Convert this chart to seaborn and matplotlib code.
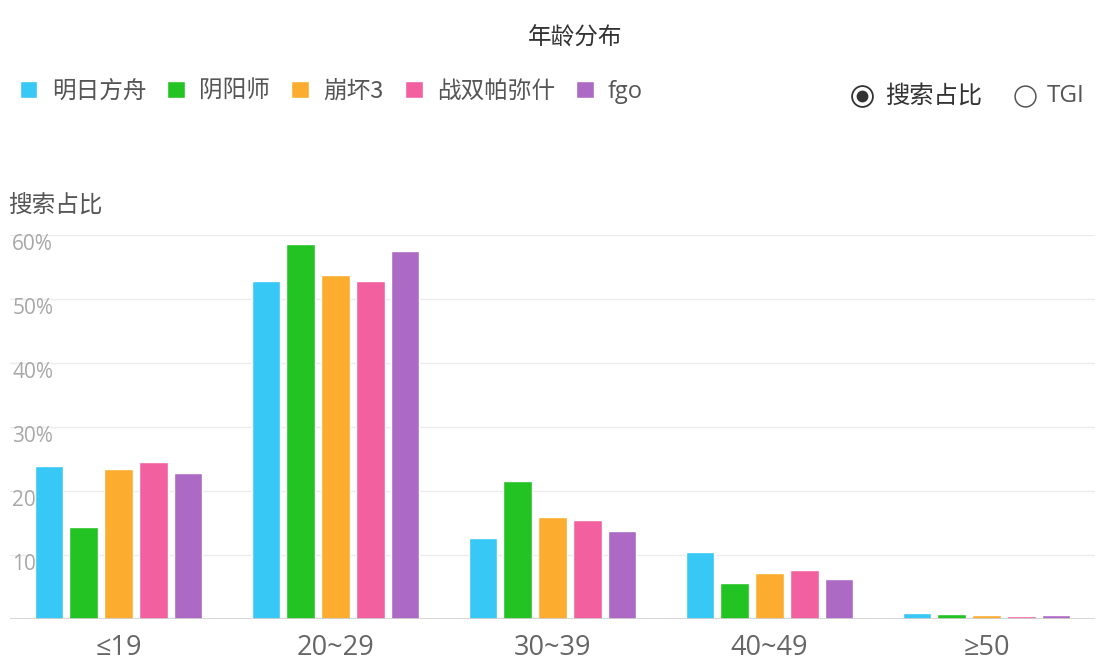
import pandas as pd
import seaborn as sns
import matplotlib.pyplot as plt
from matplotlib.lines import Line2D

ages = ['≤19', '20~29', '30~39', '40~49', '≥50']
games = ['明日方舟', '阴阳师', '崩坏3', '战双帕弥什', 'fgo']
colors = ['#38c8f5', '#22c322', '#fcac2e', '#f260a0', '#ac6ac4']

mingri = [23.9, 52.8, 12.7, 10.5, 0.9]
yinyang = [14.4, 58.6, 21.6, 5.6, 0.8]
benghuai = [23.4, 53.7, 15.9, 7.2, 0.6]
zhanshuang = [24.5, 52.8, 15.5, 7.7, 0.5]
fgo = [22.8, 57.5, 13.7, 6.2, 0.6]
yticks = [0, 10, 20, 30, 40, 50, 60]

rows = []
for game, vals in zip(games, [mingri, yinyang, benghuai, zhanshuang, fgo]):
    for age, v in zip(ages, vals):
        rows.append({'age': age, 'game': game, 'value': v})
df = pd.DataFrame(rows)

sns.set_style('white')
plt.rcParams['font.family'] = ['Noto Sans CJK SC', 'DejaVu Sans']
latin = ['Open Sans', 'DejaVu Sans']

fig = plt.figure(figsize=(11.14, 6.69), dpi=100)
W, H = 1114, 669
ax = fig.add_axes([10 / W, 1 - 619 / H, 1085 / W, 384 / H])

sns.barplot(data=df, x='age', y='value', hue='game', palette=colors,
            width=0.8, gap=0.17, ax=ax, zorder=2, saturation=1, errorbar=None)

ax.set_ylim(0, 60)
ax.set_xlim(-0.5, 4.5)
ax.set_yticks(yticks)
ax.set_yticklabels([])
ax.tick_params(axis='y', length=0)
ax.tick_params(axis='x', length=0, pad=11)
for lab in ax.get_xticklabels():
    lab.set_fontfamily(latin)
    lab.set_fontsize(19.5)
    lab.set_color('#666666')
ax.grid(axis='y', color='#ececec', linewidth=1, zorder=0)
ax.set_axisbelow(True)
ax.axhline(0, color='#d0d0d0', linewidth=1.2, zorder=3)
for s in ax.spines.values():
    s.set_visible(False)
ax.set_xlabel('')
ax.set_ylabel('')

# y tick labels drawn inside the plot, under the bars
for t in yticks[1:]:
    ax.text(0.002, t - 1.5, f'{t}%', transform=ax.get_yaxis_transform(),
            ha='left', va='center', fontsize=15, color='#a8a8a8', zorder=1,
            family=latin)

fig.text(8 / W, 1 - 205 / H, '搜索占比', fontsize=17, color='#555555',
         ha='left', va='center')
fig.text(575 / W, 1 - 38 / H, '年龄分布', fontsize=17, color='#333333',
         ha='center', va='center')

sns.move_legend(ax, 'center left', bbox_to_anchor=(0.009, (619 - 92) / 384),
                ncol=5, frameon=False, title=None, fontsize=17,
                handlelength=0.75, handleheight=0.75, handletextpad=0.6,
                columnspacing=0.9, borderpad=0, borderaxespad=0)
for txt in ax.get_legend().get_texts():
    txt.set_color('#555555')
    if txt.get_text() == 'fgo':
        txt.set_fontfamily(latin)

# radio buttons
fig.add_artist(Line2D([862 / W], [1 - 96 / H], marker='o', markersize=15,
                      markerfacecolor='white', markeredgecolor='#333333',
                      markeredgewidth=1.3, transform=fig.transFigure))
fig.add_artist(Line2D([862 / W], [1 - 96 / H], marker='o', markersize=7.5,
                      markerfacecolor='#333333', markeredgecolor='#333333',
                      transform=fig.transFigure))
fig.text(885 / W, 1 - 96 / H, '搜索占比', fontsize=17.5, color='#333333',
         ha='left', va='center')
fig.add_artist(Line2D([1025 / W], [1 - 96 / H], marker='o', markersize=15,
                      markerfacecolor='white', markeredgecolor='#555555',
                      markeredgewidth=1.1, transform=fig.transFigure))
fig.text(1047 / W, 1 - 96 / H, 'TGI', fontsize=17.5, color='#555555',
         ha='left', va='center', family=latin)

fig.savefig('out.png', dpi=100)
